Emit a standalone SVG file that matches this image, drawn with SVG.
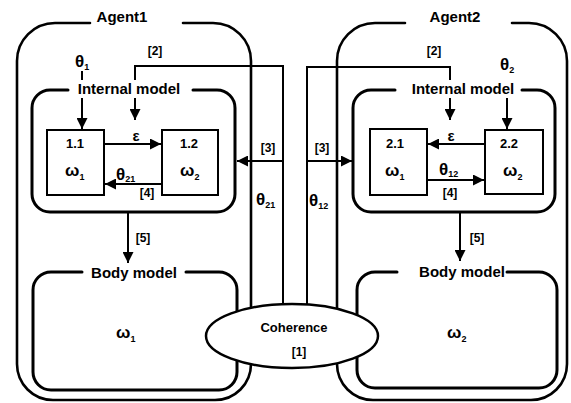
<svg xmlns="http://www.w3.org/2000/svg" width="571" height="403" viewBox="0 0 571 403">
<style>
  .frame{fill:none;stroke:#000;stroke-width:2.6;stroke-linecap:round}
  .inner{fill:none;stroke:#000;stroke-width:3;stroke-linecap:round}
  .node{fill:#fff;stroke:#000;stroke-width:2}
  .conn{fill:none;stroke:#000;stroke-width:2}
  .t{font-family:"Liberation Sans",Arial,sans-serif;font-weight:bold;fill:#000}
  .title{font-size:15px;text-anchor:middle}
  .lbl{font-size:15px;text-anchor:middle}
  .num{font-size:12px;text-anchor:middle}
  .id{font-size:13px;text-anchor:middle}
  .eps{font-size:15px;text-anchor:middle}
  .gk{font-size:17px}
  .sub{font-size:9px}
</style>
<defs>
  <marker id="ah" viewBox="0 0 10 10" refX="10" refY="5" markerWidth="5.5" markerHeight="5.5" orient="auto" markerUnits="strokeWidth">
    <path d="M0,0 L10,5 L0,10 z" fill="#000"/>
  </marker>
</defs>

<g id="agent1">
  <path class="frame" d="M90 23 H55 A38 38 0 0 0 17 61 V364 A36 36 0 0 0 53 400 H215 A36 36 0 0 0 251 364 V61 A38 38 0 0 0 213 23 H183"/>
  <text class="t title" x="122" y="22">Agent1</text>
</g>
<g id="agent2">
  <path class="frame" d="M512 23 H529 A38 38 0 0 1 567 61 V364 A36 36 0 0 1 531 400 H373 A36 36 0 0 1 337 364 V61 A38 38 0 0 1 375 23 H405"/>
  <text class="t title" x="455" y="22">Agent2</text>
</g>

<g id="internal1">
  <path class="inner" d="M68 90 H50 A18 18 0 0 0 32 108 V194 A18 18 0 0 0 50 212 H217 A18 18 0 0 0 235 194 V108 A18 18 0 0 0 217 90 H193"/>
  <text class="t lbl" x="129" y="94">Internal model</text>
</g>
<g id="internal2">
  <path class="inner" d="M395 90 H371 A18 18 0 0 0 353 108 V194 A18 18 0 0 0 371 212 H537 A18 18 0 0 0 555 194 V108 A18 18 0 0 0 537 90 H522"/>
  <text class="t lbl" x="463" y="94">Internal model</text>
</g>

<g id="body1">
  <path class="inner" d="M82 272 H51 A18 18 0 0 0 33 290 V372 A18 18 0 0 0 51 390 H219 A18 18 0 0 0 237 372 V290 A18 18 0 0 0 219 272 H186"/>
  <text class="t lbl" x="134" y="278">Body model</text>
  <text class="t gk" x="116" y="338">ω<tspan class="sub" dy="4">1</tspan></text>
</g>
<g id="body2">
  <path class="inner" d="M397 272 H375 A18 18 0 0 0 357 290 V370 A18 18 0 0 0 375 388 H539 A18 18 0 0 0 557 370 V290 A18 18 0 0 0 539 272 H507"/>
  <text class="t lbl" x="462" y="277">Body model</text>
  <text class="t gk" x="447" y="338">ω<tspan class="sub" dy="4">2</tspan></text>
</g>

<g id="node-1-1">
  <rect class="node" x="47" y="130" width="57" height="65"/>
  <text class="t id" x="75" y="148">1.1</text>
  <text class="t gk" x="65" y="176">ω<tspan class="sub" dy="4">1</tspan></text>
</g>
<g id="node-1-2">
  <rect class="node" x="162" y="130" width="56" height="65"/>
  <text class="t id" x="189" y="148">1.2</text>
  <text class="t gk" x="180" y="176">ω<tspan class="sub" dy="4">2</tspan></text>
</g>
<g id="node-2-1">
  <rect class="node" x="370" y="129" width="57" height="66"/>
  <text class="t id" x="395" y="148">2.1</text>
  <text class="t gk" x="385" y="176">ω<tspan class="sub" dy="4">1</tspan></text>
</g>
<g id="node-2-2">
  <rect class="node" x="485" y="130" width="58" height="64"/>
  <text class="t id" x="509" y="148">2.2</text>
  <text class="t gk" x="503" y="176">ω<tspan class="sub" dy="4">2</tspan></text>
</g>

<g id="connectors">
  <polyline class="conn" points="283,320 283,66 135,66 135,80"/>
  <line class="conn" x1="135" y1="98" x2="135" y2="120" marker-end="url(#ah)"/>
  <polyline class="conn" points="307,320 307,67 450,67 450,80"/>
  <line class="conn" x1="450" y1="98" x2="450" y2="120" marker-end="url(#ah)"/>
  <line class="conn" x1="82" y1="71" x2="82" y2="80"/>
  <line class="conn" x1="82" y1="98" x2="82" y2="129" marker-end="url(#ah)"/>
  <line class="conn" x1="507" y1="98" x2="507" y2="129" marker-end="url(#ah)"/>
  <line class="conn" x1="104" y1="144" x2="161" y2="144" marker-end="url(#ah)"/>
  <line class="conn" x1="162" y1="184" x2="105" y2="184" marker-end="url(#ah)"/>
  <line class="conn" x1="485" y1="144" x2="428" y2="144" marker-end="url(#ah)"/>
  <line class="conn" x1="427" y1="180" x2="484" y2="180" marker-end="url(#ah)"/>
  <line class="conn" x1="283" y1="161" x2="237" y2="161" marker-end="url(#ah)"/>
  <line class="conn" x1="307" y1="161" x2="352" y2="161" marker-end="url(#ah)"/>
  <line class="conn" x1="128" y1="212" x2="128" y2="263" marker-end="url(#ah)"/>
  <line class="conn" x1="460" y1="212" x2="460" y2="261" marker-end="url(#ah)"/>

  <text class="t num" x="155" y="55">[2]</text>
  <text class="t num" x="434" y="55">[2]</text>
  <text class="t gk" x="75" y="67">θ<tspan class="sub" dy="3">1</tspan></text>
  <text class="t gk" x="500" y="70">θ<tspan class="sub" dy="3">2</tspan></text>
  <text class="t eps" x="136" y="141">ε</text>
  <text class="t eps" x="451" y="141">ε</text>
  <text class="t gk" x="116" y="180">θ<tspan class="sub" dy="2">21</tspan></text>
  <text class="t gk" x="439" y="175">θ<tspan class="sub" dy="2">12</tspan></text>
  <text class="t num" x="147" y="197">[4]</text>
  <text class="t num" x="450" y="197">[4]</text>
  <text class="t num" x="268" y="152">[3]</text>
  <text class="t num" x="322" y="152">[3]</text>
  <text class="t gk" x="256" y="205">θ<tspan class="sub" dy="3">21</tspan></text>
  <text class="t gk" x="309" y="206">θ<tspan class="sub" dy="3">12</tspan></text>
  <text class="t num" x="143" y="242">[5]</text>
  <text class="t num" x="477" y="242">[5]</text>
</g>

<g id="coherence">
  <ellipse cx="292" cy="336" rx="86" ry="32" fill="#fff" stroke="#000" stroke-width="2.5"/>
  <text class="t id" x="294" y="332">Coherence</text>
  <text class="t num" x="299" y="356">[1]</text>
</g>
</svg>
